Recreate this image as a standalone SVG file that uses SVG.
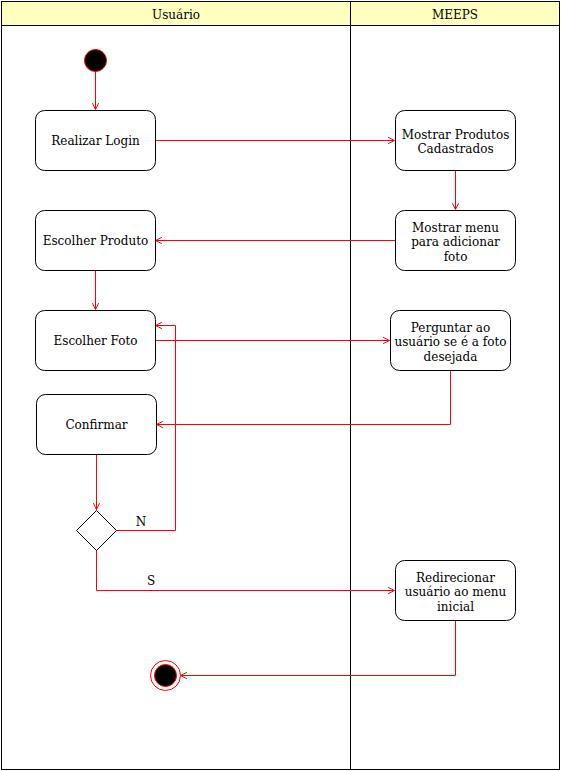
<svg xmlns="http://www.w3.org/2000/svg" width="561" height="771" viewBox="0 0 561 771">
<style>
text{font-family:"DejaVu Serif",serif;font-size:12px;fill:#000;text-anchor:middle}
.node{fill:#fff;stroke:#000;stroke-width:1}
.c{fill:none;stroke:#ff0000;stroke-width:1}
.lane{fill:none;stroke:#000;stroke-width:1}
</style>
<defs>
<marker id="a" viewBox="0 0 10 10" refX="9" refY="5" markerWidth="8" markerHeight="8" markerUnits="userSpaceOnUse" orient="auto">
<path d="M1,1 L9,5 L1,9" fill="none" stroke="#ff0000" stroke-width="1.2"/>
</marker>
</defs>
<g id="pool">
<rect x="1.5" y="1.5" width="558" height="768" fill="#fff" stroke="#000"/>
<rect x="1.5" y="1.5" width="558" height="24" fill="#ffffc0" stroke="#000"/>
<line x1="350.5" y1="1.5" x2="350.5" y2="769.5" class="lane"/>
<text x="176" y="19" font-size="13">Usuário</text>
<text x="455" y="19" font-size="13">MEEPS</text>
</g>
<g id="connectors">
<path class="c" d="M95.5,71 V109.5" marker-end="url(#a)"/>
<path class="c" d="M155,140.5 H394.5" marker-end="url(#a)"/>
<path class="c" d="M455.5,170 V209.5" marker-end="url(#a)"/>
<path class="c" d="M395,240.5 H155.5" marker-end="url(#a)"/>
<path class="c" d="M95.5,270 V309.5" marker-end="url(#a)"/>
<path class="c" d="M155,340.5 H389.5" marker-end="url(#a)"/>
<path class="c" d="M450.5,370 V424.5 H156.5" marker-end="url(#a)"/>
<path class="c" d="M96.5,454 V509.5" marker-end="url(#a)"/>
<path class="c" d="M116,530.5 H175.5 V325.5 H155.5" marker-end="url(#a)"/>
<path class="c" d="M96.5,550 V590.5 H394.5" marker-end="url(#a)"/>
<path class="c" d="M455.5,620 V675.5 H180.5" marker-end="url(#a)"/>
<text x="141" y="526">N</text>
<text x="151" y="585">S</text>
</g>
<g id="start"><circle cx="95.5" cy="60.5" r="11" fill="#000" stroke="#ff0000"/></g>
<g id="login"><rect class="node" x="35.5" y="110.5" width="120" height="60" rx="9"/><text x="95.5" y="145">Realizar Login</text></g>
<g id="mostrarProdutos"><rect class="node" x="395.5" y="110.5" width="120" height="60" rx="9"/><text x="455.5" y="139">Mostrar Produtos</text><text x="455.5" y="153">Cadastrados</text></g>
<g id="mostrarMenu"><rect class="node" x="395.5" y="210.5" width="120" height="60" rx="9"/><text x="455.5" y="232">Mostrar menu</text><text x="455.5" y="246">para adicionar</text><text x="455.5" y="261">foto</text></g>
<g id="escolherProduto"><rect class="node" x="35.5" y="210.5" width="120" height="60" rx="9"/><text x="95.5" y="245">Escolher Produto</text></g>
<g id="escolherFoto"><rect class="node" x="35.5" y="310.5" width="120" height="60" rx="9"/><text x="95.5" y="345">Escolher Foto</text></g>
<g id="perguntar"><rect class="node" x="390.5" y="310.5" width="120" height="60" rx="9"/><text x="450.5" y="332">Perguntar ao</text><text x="450.5" y="346">usuário se é a foto</text><text x="450.5" y="361">desejada</text></g>
<g id="confirmar"><rect class="node" x="36.5" y="394.5" width="120" height="60" rx="9"/><text x="96.5" y="429">Confirmar</text></g>
<g id="decisao"><path class="node" d="M76.5,530.5 L96.5,510.5 L116.5,530.5 L96.5,550.5 Z"/></g>
<g id="redirecionar"><rect class="node" x="395.5" y="560.5" width="120" height="60" rx="9"/><text x="455.5" y="582">Redirecionar</text><text x="455.5" y="596">usuário ao menu</text><text x="455.5" y="611">inicial</text></g>
<g id="end"><circle cx="165.5" cy="675.5" r="15" fill="#fff" stroke="#ff0000"/><circle cx="165.5" cy="675.5" r="11" fill="#000" stroke="#ff0000"/></g>
</svg>
